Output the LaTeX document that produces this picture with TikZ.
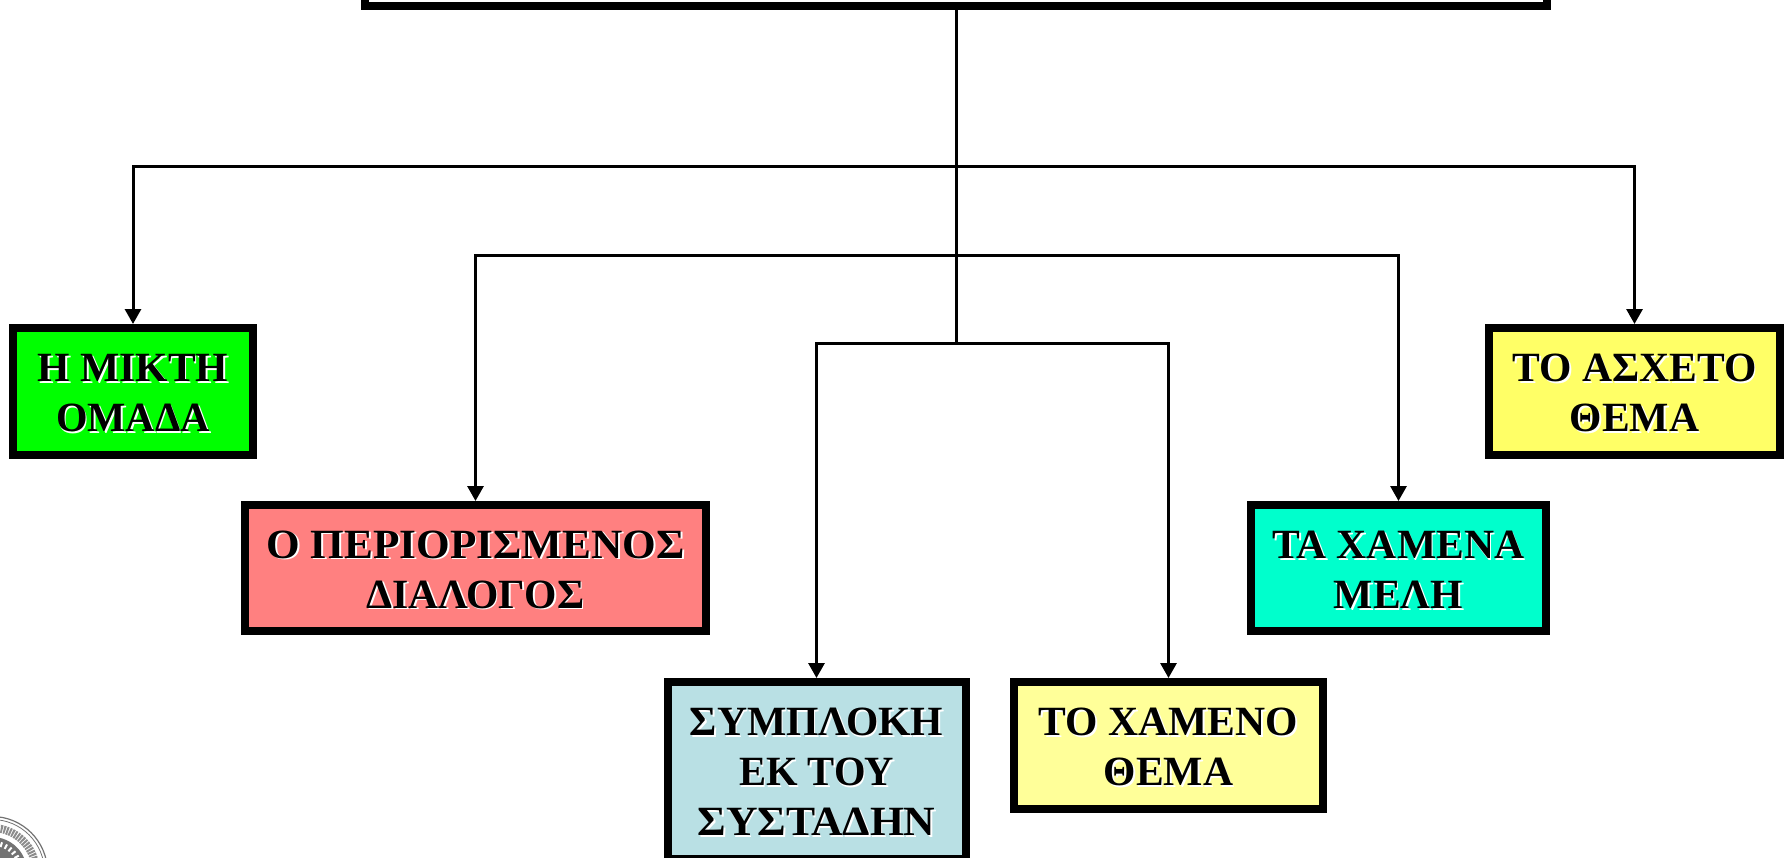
\documentclass[tikz,border=0pt]{standalone}
\usepackage{fontspec}
\usepackage{graphicx}
\setmainfont{Liberation Serif}
\usetikzlibrary{arrows.meta}
\definecolor{cgreen}{HTML}{00FF00}
\definecolor{cred}{HTML}{FF8080}
\definecolor{cteal}{HTML}{00FFCC}
\definecolor{cyellowa}{HTML}{FFFF66}
\definecolor{cyellowb}{HTML}{FFFF99}
\definecolor{cblue}{HTML}{B9E0E4}
\newcommand{\shtxt}[2][1]{\leavevmode\raisebox{-2.5pt}[\height][\depth]{\scalebox{#1}[1]{\rlap{\raisebox{-1.6pt}{\kern1.6pt\textcolor{white}{#2}}}#2}}}
\tikzset{
  box/.style={draw=black,line width=8pt,rectangle,inner sep=0pt,align=center,
    font=\fontsize{41.6}{50}\selectfont\bfseries},
  conn/.style={draw=black,line width=3pt},
  arr/.style={conn,-{Triangle[length=15pt,width=16pt]}},
  sealring/.style={draw=black!55,line width=1.2pt}
}
\begin{document}
\begin{tikzpicture}[x=1pt,y=-1pt]
\useasboundingbox (0,0) rectangle (1787,857);
\clip (0,0) rectangle (1787,857);
\fill[white] (0,0) rectangle (1787,857);
% seal
\coordinate (seal) at (-8,872);
\draw[sealring] (seal) circle[radius=55.5];
\draw[sealring,line width=.8pt] (seal) circle[radius=52.5];
\draw[draw=black!45,line width=8pt,dash pattern=on 2pt off 1pt] (seal) circle[radius=44];
\fill[black!55] (seal) circle[radius=35];
\draw[draw=white,line width=5pt,dash pattern=on 2pt off 3pt] (seal) circle[radius=29];
% boxes
\node[box,fill=white,minimum width=1182pt,minimum height=192pt] (top) at (956,-90) {};
\node[box,fill=cgreen,minimum width=240pt,minimum height=127pt] (mikti) at (133,391.5) {\shtxt{Η ΜΙΚΤΗ}\\\shtxt[.975]{ΟΜΑΔΑ}};
\node[box,fill=cred,minimum width=461pt,minimum height=126pt] (dialogos) at (475.5,568) {\shtxt[1.04]{Ο ΠΕΡΙΟΡΙΣΜΕΝΟΣ}\\\shtxt{ΔΙΑΛΟΓΟΣ}};
\node[box,fill=cteal,minimum width=295pt,minimum height=126pt] (meli) at (1398.5,568) {\shtxt{ΤΑ ΧΑΜΕΝΑ}\\\shtxt{ΜΕΛΗ}};
\node[box,fill=cyellowa,minimum width=291pt,minimum height=127pt] (asxeto) at (1634.5,391.5) {\shtxt{ΤΟ ΑΣΧΕΤΟ}\\\shtxt{ΘΕΜΑ}};
\node[box,fill=cblue,minimum width=298pt,minimum height=177pt] (symploki) at (816.5,770.5) {\shtxt{ΣΥΜΠΛΟΚΗ}\\\shtxt[.975]{ΕΚ ΤΟΥ}\\\shtxt[1.05]{ΣΥΣΤΑΔΗΝ}};
\node[box,fill=cyellowb,minimum width=309pt,minimum height=127pt] (xameno) at (1168.5,745.5) {\shtxt{ΤΟ ΧΑΜΕΝΟ}\\\shtxt{ΘΕΜΑ}};
% junctions
\coordinate (j1) at (956,166);
\coordinate (j2) at (956,255);
\coordinate (j3) at (956,343);
\draw[conn] (top.south) -- (j3);
\draw[arr] (j1) -| (mikti.north);
\draw[arr] (j1) -| (asxeto.north);
\draw[arr] (j2) -| (dialogos.north);
\draw[arr] (j2) -| (meli.north);
\draw[arr] (j3) -| (symploki.north);
\draw[arr] (j3) -| (xameno.north);
\end{tikzpicture}
\end{document}
